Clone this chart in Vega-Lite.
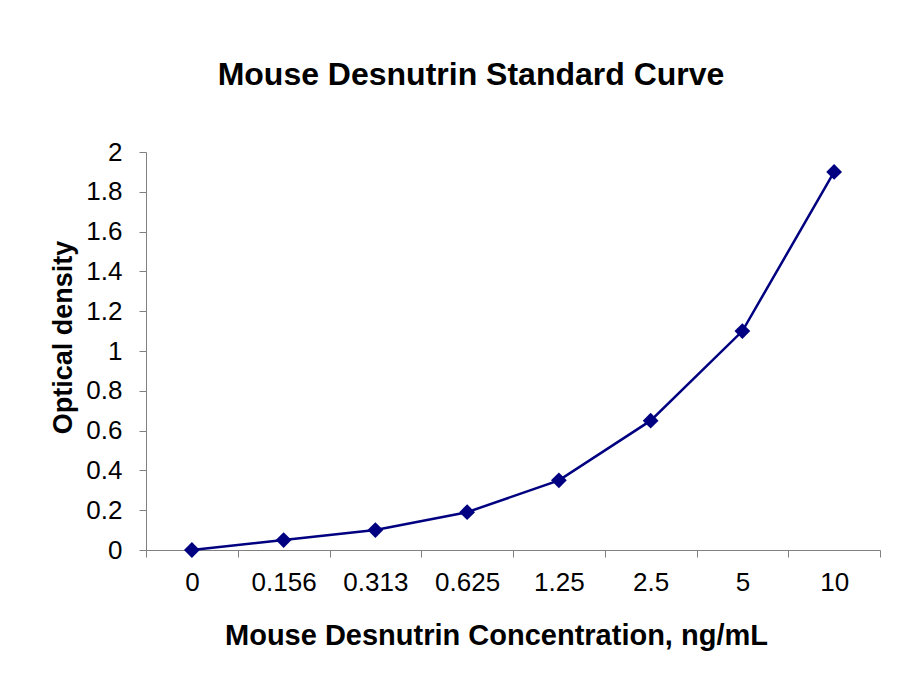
{
  "$schema": "https://vega.github.io/schema/vega-lite/v6.json",
  "width": 734,
  "height": 398,
  "autosize": "none",
  "padding": {"left": 146, "top": 152, "right": 20, "bottom": 136},
  "background": "white",
  "title": {
    "text": "Mouse Desnutrin Standard Curve",
    "font": "Liberation Sans",
    "fontSize": 32,
    "fontWeight": "bold",
    "color": "black",
    "baseline": "alphabetic",
    "offset": 22,
    "anchor": "middle",
    "dx": -42
  },
  "data": {
    "values": [
      {"conc": "0", "od": 0},
      {"conc": "0.156", "od": 0.05},
      {"conc": "0.313", "od": 0.1},
      {"conc": "0.625", "od": 0.19},
      {"conc": "1.25", "od": 0.35},
      {"conc": "2.5", "od": 0.65},
      {"conc": "5", "od": 1.1},
      {"conc": "10", "od": 1.9}
    ]
  },
  "encoding": {
    "x": {
      "field": "conc",
      "type": "ordinal",
      "sort": null,
      "bandPosition": 0.5,
      "scale": {"type": "band", "paddingInner": 0, "paddingOuter": 0},
      "axis": {
        "title": "Mouse Desnutrin Concentration, ng/mL",
        "titleFont": "Liberation Sans",
        "titleFontSize": 29,
        "titleFontWeight": "bold",
        "titleColor": "black",
        "titleX": 350,
        "titlePadding": 26,
        "labelFont": "Liberation Sans",
        "labelFontSize": 26,
        "labelColor": "black",
        "labelAngle": 0,
        "labelPadding": 12,
        "tickBand": "extent",
        "tickSize": 7,
        "tickColor": "#808080",
        "domainColor": "#808080",
        "grid": false
      }
    },
    "y": {
      "field": "od",
      "type": "quantitative",
      "scale": {"domain": [0, 2], "nice": false},
      "axis": {
        "title": "Optical density",
        "values": [0, 0.2, 0.4, 0.6, 0.8, 1, 1.2, 1.4, 1.6, 1.8, 2],
        "format": "~g",
        "titleFont": "Liberation Sans",
        "titleFontSize": 27,
        "titleFontWeight": "bold",
        "titleColor": "black",
        "titleY": 185,
        "titlePadding": 8,
        "labelFont": "Liberation Sans",
        "labelFontSize": 26,
        "labelColor": "black",
        "labelPadding": 17,
        "tickSize": 7,
        "tickColor": "#808080",
        "domainColor": "#808080",
        "grid": false
      }
    }
  },
  "layer": [
    {"mark": {"type": "line", "color": "#000080", "strokeWidth": 2.5}},
    {"mark": {"type": "point", "shape": "diamond", "filled": true, "size": 250, "color": "#000080", "opacity": 1}}
  ],
  "config": {"view": {"stroke": null}}
}
